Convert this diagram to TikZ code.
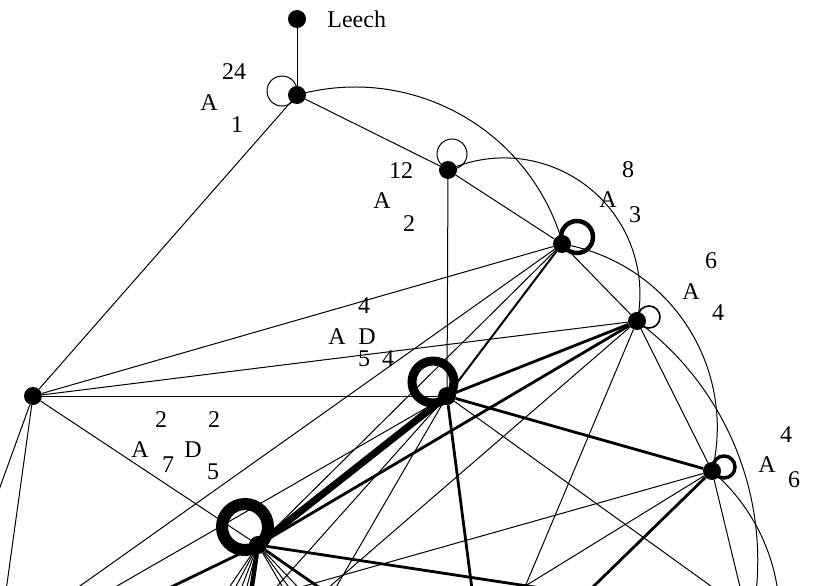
\documentclass[tikz,border=0pt]{standalone}
\usepackage{fontspec}
\setmainfont{Liberation Serif}
\usepackage{tikz}
\usetikzlibrary{positioning,calc}

\tikzset{
	vertex/.style={circle,fill=black,inner sep=0pt,minimum size=18pt},
	lab/.style={inner sep=0pt,font=\fontsize{24}{28}\selectfont},
	edge/.style={line width=1pt},
	heavy/.style={line width=2.8pt},
}

\begin{document}
\begin{tikzpicture}[x=1pt,y=-1pt]
	\useasboundingbox (0,0) rectangle (820,586);
	\clip (0,0) rectangle (820,586);
	
	\node[vertex] (leech) at (297,19) {};
	\node[vertex] (a1) at (297,95) {};
	\node[vertex] (a2) at (448,170) {};
	\node[vertex] (a3) at (562,244) {};
	\node[vertex] (a4) at (637,321) {};
	\node[vertex] (a5d4) at (447,396) {};
	\node[vertex] (a6) at (712,471) {};
	\node[vertex] (a7d5) at (258,545) {};
	\node[vertex] (d4) at (33,396) {};
	
	% ends that lie below the frame
	\coordinate (d4x) at (-30,570);
	\coordinate (d4y) at (2,620);
	\coordinate (a3x) at (32,620);
	\coordinate (a5x) at (58,620);
	\coordinate (a5y) at (247,620);
	\coordinate (a5z) at (317,620);
	\coordinate (a5v) at (476,620);
	\coordinate (a5w) at (758,620);
	\coordinate (a7l) at (103,620);
	\coordinate (a7v) at (247,620);
	\coordinate (a7r) at (366,620);
	\coordinate (a7h) at (751,620);
	\coordinate (a4x) at (511,620);
	\coordinate (a4y) at (291,620);
	\coordinate (a6x) at (748,620);
	\coordinate (a6y) at (184,620);
	\coordinate (a6z) at (470,620);
	\coordinate (a6v) at (559,620);
	
	\draw[edge] (leech) -- (a1);
	\draw[edge] (a1) -- (a2);
	\draw[edge] (a1) -- (d4);
	\draw[edge] (a2) -- (a3);
	\draw[edge] (a2) -- (a5d4);
	\draw[edge] (a3) -- (a4);
	\draw[edge] (a3) -- (d4);
	\draw[edge] (a3) -- (a7d5);
	\draw[edge] (a3) -- (a3x);
	\draw[edge] (a4) -- (d4);
	\draw[edge] (a4) -- (a6);
	\draw[edge] (a4) -- (a4x);
	\draw[edge] (a4) -- (a4y);
	\draw[edge] (d4) -- (a5d4);
	\draw[edge] (d4) -- (a7d5);
	\draw[edge] (d4) -- (d4x);
	\draw[edge] (d4) -- (d4y);
	\draw[edge] (a5d4) -- (a5x);
	\draw[edge] (a5d4) -- (a5y);
	\draw[edge] (a5d4) -- (a5z);
	\draw[edge] (a5d4) -- (a5w);
	\draw[edge] (a6) -- (a6x);
	\draw[edge] (a6) -- (a6y);
	\draw[edge] (a6) -- (a6z);
	\foreach \x in {207,218,229,238,302,313,329}
		\draw[edge] (a7d5) -- (\x,620);
	
	\draw[line width=2pt] (a3) -- (a5d4);
	\draw[heavy] (a4) -- (a5d4);
	\draw[heavy] (a4) -- (a7d5);
	\draw[heavy] (a5d4) -- (a6);
	\draw[heavy] (a5d4) -- (a5v);
	\draw[heavy] (a6) -- (a6v);
	\draw[heavy] (a7d5) -- (a7h);
	\draw[heavy] (a7d5) -- (a7r);
	\draw[heavy] (a7d5) -- (a7l);
	\draw[line width=4.5pt] (a7d5) -- (a7v);
	\draw[line width=7pt] (a5d4) -- (a7d5);
	
	\draw[edge] (a1.center) arc[start angle=-105.6,end angle=-15.9,radius=216];
	\draw[edge] (a2.center) arc[start angle=-114.3,end angle=11.5,radius=136];
	\draw[edge] (a3.center) arc[start angle=-80.5,end angle=13.6,radius=186];
	\draw[edge] (a4.center) arc[start angle=-53.5,end angle=20,radius=298];
	\draw[edge] (a6.center) arc[start angle=-49.4,end angle=15,radius=194];
	
	% loops
	\draw[edge] ($(a1)+(-15,-4)$) circle (15);
	\draw[edge] ($(a2)+(4,-16)$) circle (15);
	\draw[line width=4.5pt] ($(a3)+(15,-7)$) circle (16);
	\draw[line width=1.6pt] ($(a4)+(12,-4)$) circle (11);
	\draw[line width=9pt] ($(a5d4)+(-14,-14)$) circle (21);
	\draw[line width=3.5pt] ($(a6)+(12,-4)$) circle (11);
	\draw[line width=12pt] ($(a7d5)+(-13,-18)$) circle (23);
	
	\node[lab,right=21pt of leech] (leechlab) {Leech};
	
	\node[lab] (a1up) at (234,72) {24};
	\node[lab] (a1A) at (209,103) {A};
	\node[lab] (a1dn) at (237,125) {1};
	
	\node[lab] (a2up) at (401,171) {12};
	\node[lab] (a2A) at (382,201) {A};
	\node[lab] (a2dn) at (409,224) {2};
	
	\node[lab] (a3up) at (628,170) {8};
	\node[lab] (a3A) at (608,200) {A};
	\node[lab] (a3dn) at (635,215) {3};
	
	\node[lab] (a4up) at (711,261) {6};
	\node[lab] (a4A) at (691,292) {A};
	\node[lab] (a4dn) at (718,313) {4};
	
	\node[lab] (a5up) at (364,306) {4};
	\node[lab] (a5A) at (337,337) {A};
	\node[lab] (a5D) at (367,337) {D};
	\node[lab] (a5dn) at (364,359) {5};
	\node[lab] (a5dd) at (388,359) {4};
	
	\node[lab] (a6up) at (786,435) {4};
	\node[lab] (a6A) at (767,465) {A};
	\node[lab] (a6dn) at (794,480) {6};
	
	\node[lab] (a7up) at (161,420) {2};
	\node[lab] (a7uu) at (214,420) {2};
	\node[lab] (a7A) at (140,450) {A};
	\node[lab] (a7dn) at (168,465) {7};
	\node[lab] (a7D) at (193,450) {D};
	\node[lab] (a7dd) at (213,472) {5};
	
\end{tikzpicture}
\end{document}
